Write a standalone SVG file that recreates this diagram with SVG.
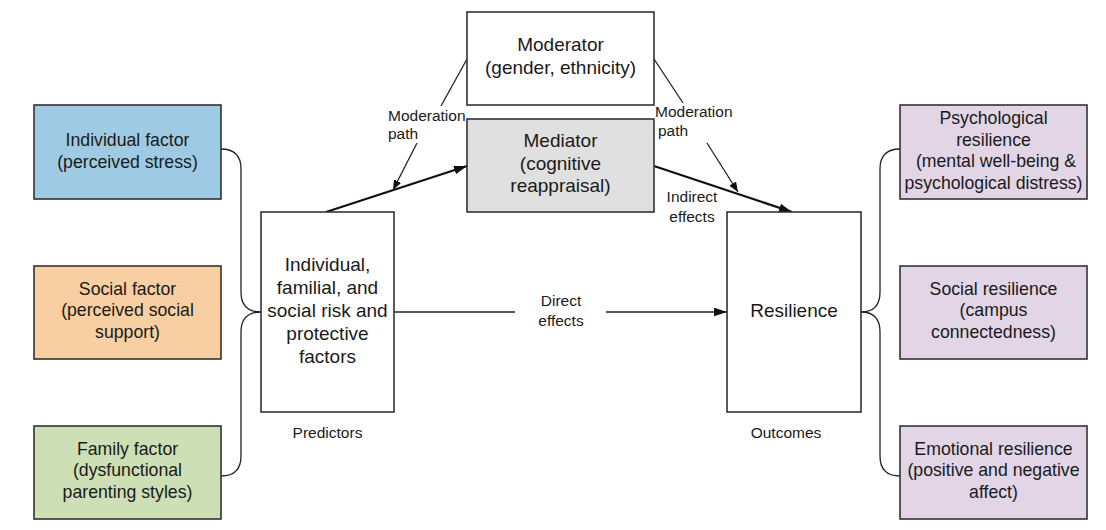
<svg xmlns="http://www.w3.org/2000/svg" width="1106" height="530" viewBox="0 0 1106 530">
  <style>
    .box { stroke: #333333; stroke-width: 1.6; }
    .side { font-family: "Liberation Sans", Arial, sans-serif; font-size: 17.7px; fill: #1a1a1a; text-anchor: middle; }
    .main { font-family: "Liberation Sans", Arial, sans-serif; font-size: 19px; fill: #1a1a1a; text-anchor: middle; }
    .lbl { font-family: "Liberation Sans", Arial, sans-serif; font-size: 15.5px; fill: #1a1a1a; }
    .mid { text-anchor: middle; }
    .thin { fill: none; stroke: #222222; stroke-width: 1.3; }
    .thick { fill: none; stroke: #111111; stroke-width: 2.2; }
  </style>
  <defs>
    <marker id="head" viewBox="0 0 10 8" refX="10" refY="4" markerWidth="10" markerHeight="8" markerUnits="userSpaceOnUse" orient="auto">
      <path d="M0,0 L10,4 L0,8 Z" fill="#111111"/>
    </marker>
    <marker id="headBig" viewBox="0 0 12 8" refX="12" refY="4" markerWidth="13" markerHeight="9" markerUnits="userSpaceOnUse" orient="auto">
      <path d="M0,0 L12,4 L0,8 Z" fill="#111111"/>
    </marker>
  </defs>

  <rect width="1106" height="530" fill="#ffffff"/>

  <!-- connectors -->
  <g id="connectors">
    <!-- braces gathering the three factors -->
    <path class="thin" d="M221,149 Q241,149 241,169 L241,292 Q241,312 261,312"/>
    <path class="thin" d="M221,476 Q241,476 241,456 L241,332 Q241,312 261,312"/>
    <!-- braces fanning out to the resilience domains -->
    <path class="thin" d="M861,312 Q880,312 880,292 L880,169 Q880,149 900,149"/>
    <path class="thin" d="M861,312 Q880,312 880,332 L880,456 Q880,476 900,476"/>
    <!-- mediation paths -->
    <line class="thick" x1="326" y1="212" x2="467" y2="166" marker-end="url(#headBig)"/>
    <line class="thick" x1="654" y1="166" x2="792" y2="212" marker-end="url(#headBig)"/>
    <!-- direct path -->
    <line class="thin" x1="394" y1="312" x2="515" y2="312" stroke-width="1.6"/>
    <line class="thin" x1="606" y1="312" x2="727" y2="312" stroke-width="1.6" marker-end="url(#headBig)"/>
    <!-- moderation paths -->
    <line class="thin" x1="467" y1="59" x2="441" y2="106"/>
    <line class="thin" x1="417" y1="143" x2="393" y2="190" marker-end="url(#head)"/>
    <line class="thin" x1="654" y1="59" x2="683" y2="103"/>
    <line class="thin" x1="707" y1="143" x2="738" y2="192" marker-end="url(#head)"/>
    <!-- path labels -->
    <text class="lbl" x="388" y="121">Moderation</text>
    <text class="lbl" x="388" y="139">path</text>
    <text class="lbl" x="655" y="117">Moderation</text>
    <text class="lbl" x="658" y="136">path</text>
    <text class="lbl mid" x="692" y="202">Indirect</text>
    <text class="lbl mid" x="692" y="222">effects</text>
    <text class="lbl mid" x="561" y="306">Direct</text>
    <text class="lbl mid" x="561" y="326">effects</text>
  </g>

  <!-- predictor domains -->
  <g id="individual-factor">
    <rect class="box" x="34" y="105" width="187" height="94" fill="#9fcae3"/>
    <text class="side" x="127.5" y="146">Individual factor</text>
    <text class="side" x="127.5" y="167.5">(perceived stress)</text>
  </g>
  <g id="social-factor">
    <rect class="box" x="34" y="266" width="187" height="93" fill="#f7cfa2"/>
    <text class="side" x="127.5" y="294.5">Social factor</text>
    <text class="side" x="127.5" y="316">(perceived social</text>
    <text class="side" x="127.5" y="337.5">support)</text>
  </g>
  <g id="family-factor">
    <rect class="box" x="34" y="426" width="187" height="93" fill="#cde0b5"/>
    <text class="side" x="127.5" y="454.5">Family factor</text>
    <text class="side" x="127.5" y="476">(dysfunctional</text>
    <text class="side" x="127.5" y="497.5">parenting styles)</text>
  </g>

  <!-- predictors -->
  <g id="predictors">
    <rect class="box" x="261" y="212" width="133" height="200" fill="#ffffff"/>
    <text class="main" x="327.5" y="271">Individual,</text>
    <text class="main" x="327.5" y="294">familial, and</text>
    <text class="main" x="327.5" y="317">social risk and</text>
    <text class="main" x="327.5" y="340">protective</text>
    <text class="main" x="327.5" y="363">factors</text>
    <text class="lbl mid" x="327.5" y="438">Predictors</text>
  </g>

  <!-- moderator -->
  <g id="moderator">
    <rect class="box" x="467" y="12" width="187" height="93" fill="#ffffff"/>
    <text class="main" x="560.5" y="51">Moderator</text>
    <text class="main" x="560.5" y="74">(gender, ethnicity)</text>
  </g>

  <!-- mediator -->
  <g id="mediator">
    <rect class="box" x="467" y="119" width="187" height="93" fill="#e0e0e0"/>
    <text class="main" x="560.5" y="147">Mediator</text>
    <text class="main" x="560.5" y="169.5">(cognitive</text>
    <text class="main" x="560.5" y="192">reappraisal)</text>
  </g>

  <!-- outcomes -->
  <g id="resilience">
    <rect class="box" x="727" y="212" width="134" height="200" fill="#ffffff"/>
    <text class="main" x="794" y="317">Resilience</text>
    <text class="lbl mid" x="786" y="438">Outcomes</text>
  </g>

  <!-- resilience domains -->
  <g id="psychological-resilience">
    <rect class="box" x="900" y="105" width="187" height="94" fill="#e1d5e6"/>
    <text class="side" x="993.5" y="124">Psychological</text>
    <text class="side" x="993.5" y="145.5">resilience</text>
    <text class="side" x="996" y="167">(mental well-being &amp;</text>
    <text class="side" x="993.5" y="188.5">psychological distress)</text>
  </g>
  <g id="social-resilience">
    <rect class="box" x="900" y="266" width="187" height="93" fill="#e1d5e6"/>
    <text class="side" x="993.5" y="294.5">Social resilience</text>
    <text class="side" x="993.5" y="316">(campus</text>
    <text class="side" x="993.5" y="337.5">connectedness)</text>
  </g>
  <g id="emotional-resilience">
    <rect class="box" x="900" y="426" width="187" height="93" fill="#e1d5e6"/>
    <text class="side" x="993.5" y="454.5">Emotional resilience</text>
    <text class="side" x="993.5" y="476">(positive and negative</text>
    <text class="side" x="993.5" y="497.5">affect)</text>
  </g>
</svg>
